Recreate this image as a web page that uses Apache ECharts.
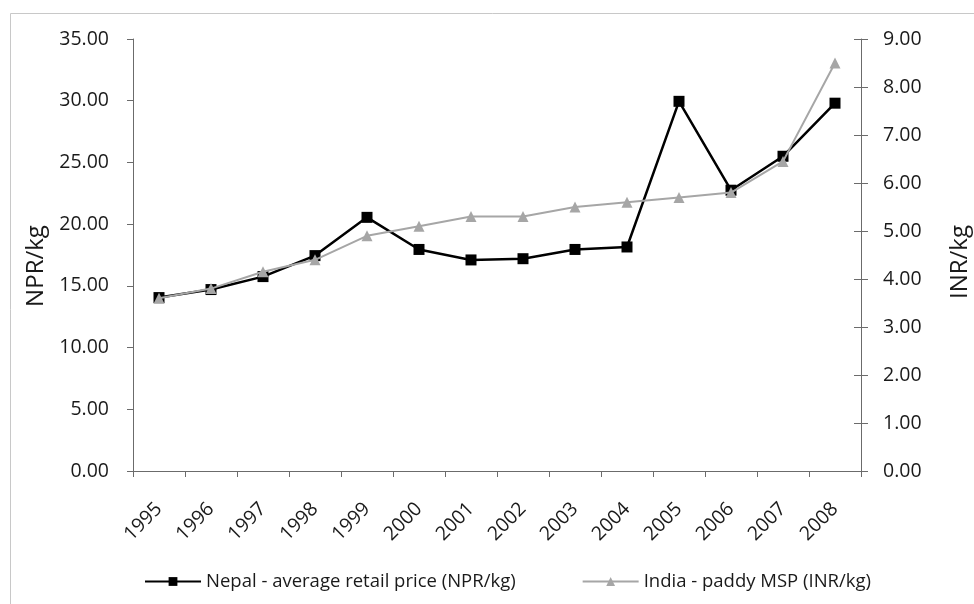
<!DOCTYPE html>
<html>
<head>
<meta charset="utf-8">
<script src="https://cdn.jsdelivr.net/npm/echarts@6/dist/echarts.min.js"></script>
<style>
  html, body { margin: 0; padding: 0; background: #fff; }
  #chart { width: 974px; height: 604px; }
</style>
</head>
<body>
<div id="chart"></div>
<script>
// Rice prices: Nepal retail price vs India paddy minimum support price
const years = ['1995','1996','1997','1998','1999','2000','2001','2002','2003','2004','2005','2006','2007','2008'];
const nepalRetail = [14.05, 14.7, 15.75, 17.45, 20.55, 17.95, 17.1, 17.2, 17.95, 18.15, 29.95, 22.75, 25.5, 29.8];
const indiaMsp = [3.6, 3.8, 4.15, 4.4, 4.9, 5.1, 5.3, 5.3, 5.5, 5.6, 5.7, 5.8, 6.45, 8.5];
const seriesNames = ['Nepal - average retail price (NPR/kg)', 'India - paddy MSP (INR/kg)'];
const leftTitle = 'NPR/kg';
const rightTitle = 'INR/kg';

const FONT = '"Open Sans", "Noto Sans", sans-serif';
const AXIS_COLOR = '#6b6b6b';
const TEXT_COLOR = '#1a1a1a';

const chart = echarts.init(document.getElementById('chart'), null, { renderer: 'canvas' });

const valueAxisBase = {
  type: 'value',
  splitLine: { show: false },
  axisLine: { show: true, lineStyle: { color: AXIS_COLOR, width: 1 } },
  axisLabel: { color: TEXT_COLOR, fontFamily: FONT, fontSize: 19.5, formatter: v => v.toFixed(2) }
};

chart.setOption({
  animation: false,
  backgroundColor: '#fff',
  textStyle: { fontFamily: FONT },
  grid: { left: 133, right: 113, top: 39, bottom: 133, containLabel: false },
  graphic: [
    { type: 'rect', silent: true, z: -10,
      shape: { x: 10.5, y: 13.5, width: 1000, height: 700 },
      style: { fill: 'none', stroke: '#c8c8c8', lineWidth: 1 } },
    { type: 'text', x: 36, y: 266, rotation: Math.PI / 2,
      style: { text: leftTitle, font: '24px ' + FONT, fill: TEXT_COLOR, align: 'center', verticalAlign: 'middle' } },
    { type: 'text', x: 960, y: 262, rotation: Math.PI / 2,
      style: { text: rightTitle, font: '24px ' + FONT, fill: TEXT_COLOR, align: 'center', verticalAlign: 'middle' } }
  ],
  legend: {
    left: 139, top: 567,
    itemWidth: 56, itemHeight: 11, itemGap: 66,
    textStyle: { color: TEXT_COLOR, fontFamily: FONT, fontSize: 18.5 },
    data: seriesNames
  },
  xAxis: {
    type: 'category',
    data: years,
    boundaryGap: true,
    axisLine: { lineStyle: { color: AXIS_COLOR, width: 1 } },
    axisTick: { show: true, length: 6, lineStyle: { color: AXIS_COLOR } },
    axisLabel: { rotate: 45, margin: 35, color: TEXT_COLOR, fontFamily: FONT, fontSize: 19.5, interval: 0 }
  },
  yAxis: [
    Object.assign({}, valueAxisBase, {
      position: 'left', min: 0, max: 35, interval: 5,
      axisTick: { show: true, length: 6, lineStyle: { color: AXIS_COLOR } },
      axisLabel: Object.assign({}, valueAxisBase.axisLabel, { margin: 24 })
    }),
    Object.assign({}, valueAxisBase, {
      position: 'right', min: 0, max: 9, interval: 1,
      axisTick: { show: true, inside: false, length: 7, lineStyle: { color: AXIS_COLOR } },
      axisLabel: Object.assign({}, valueAxisBase.axisLabel, { margin: 22 })
    }),
    // inner half of the crossing ticks on the right axis
    {
      type: 'value', position: 'right', min: 0, max: 9, interval: 1,
      splitLine: { show: false },
      axisLine: { show: false },
      axisLabel: { show: false },
      axisTick: { show: true, inside: true, length: 7, lineStyle: { color: AXIS_COLOR } }
    }
  ],
  series: [
    {
      name: seriesNames[0],
      type: 'line',
      yAxisIndex: 0,
      data: nepalRetail,
      symbol: 'rect',
      symbolSize: 11,
      lineStyle: { color: '#000', width: 2.5 },
      itemStyle: { color: '#000' },
      z: 2
    },
    {
      name: seriesNames[1],
      type: 'line',
      yAxisIndex: 1,
      data: indiaMsp,
      symbol: 'triangle',
      symbolSize: 11,
      lineStyle: { color: '#a6a6a6', width: 2 },
      itemStyle: { color: '#a6a6a6' },
      z: 3
    }
  ]
});
</script>
</body>
</html>
